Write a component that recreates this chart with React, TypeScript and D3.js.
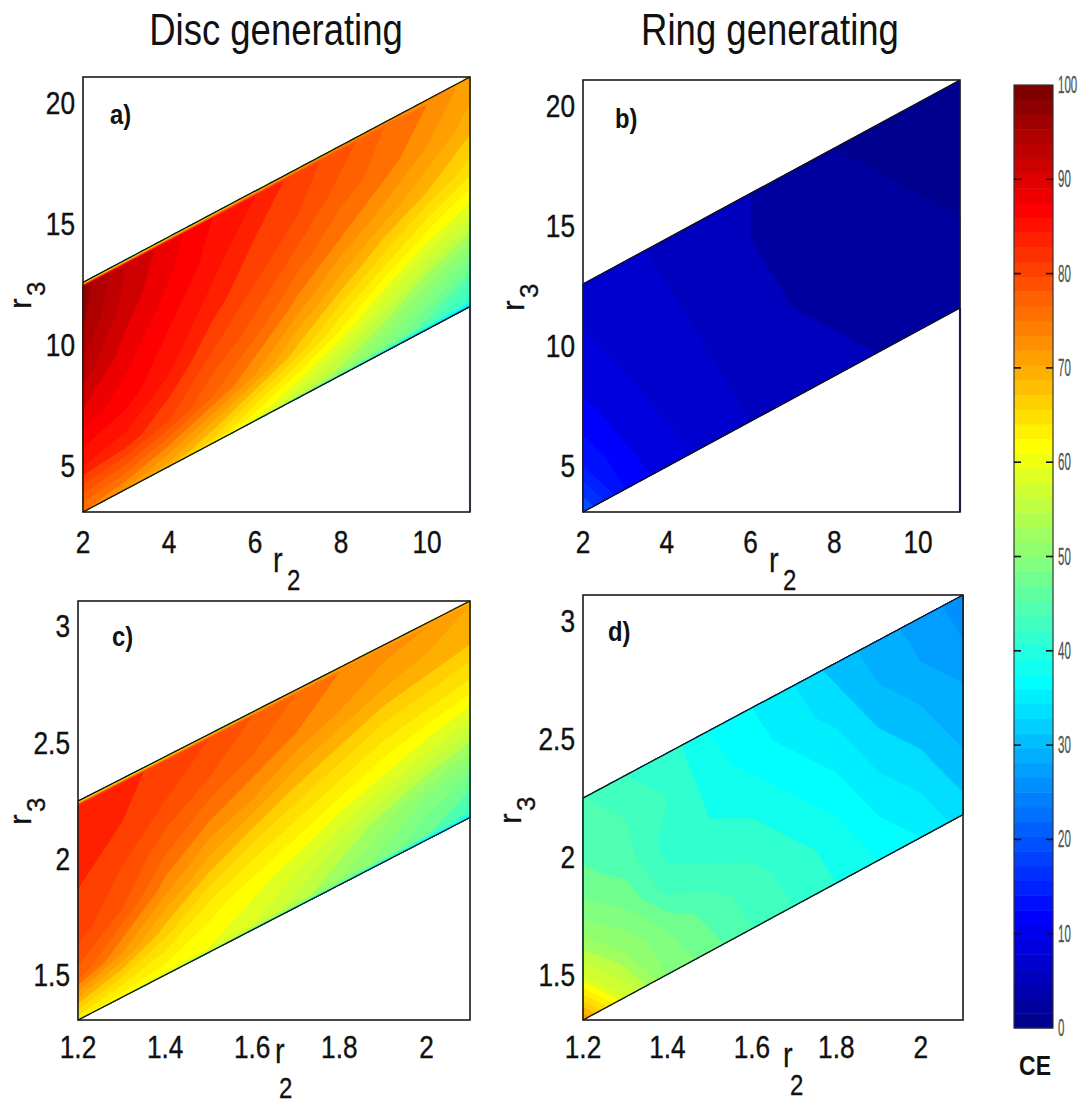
import React from 'react';
import * as d3 from 'd3';

// ---------- data ----------
const r2Large = [2, 3, 4, 5, 6, 7, 8, 9, 10, 11];
const r2Small = [1.2, 1.3, 1.4, 1.5, 1.6, 1.7, 1.8, 1.9, 2.0, 2.1];
// r3 of band edges at first and last r2
const lowerLarge = [3, 11.5];
const upperLarge = [12.5, 21];
const lowerSmall = [1.3, 2.17];
const upperSmall = [2.24, 3.1];
// fractional position across band (0 = lower edge, 1 = upper edge) of each data row
const rowsEdge = [0, 0.02, 0.2, 0.4, 0.6, 0.8, 0.98, 1];
const rowsPlain = [0, 0.2, 0.4, 0.6, 0.8, 1];

// CE values, rows from lower edge to upper edge, columns along r2
const ceDiscLarge = [
  [74, 72, 68, 63, 57, 50, 43, 37, 32, 28],
  [75, 73, 70, 66, 61, 57, 53, 49, 45, 41],
  [84, 83, 80, 76, 72, 67, 62, 57, 52, 48],
  [89, 87, 84, 80, 77, 73, 69, 65, 61, 58],
  [93, 89, 86, 83, 80, 77, 74, 71, 68, 65],
  [96, 91, 88, 85, 82, 80, 77, 75, 72, 69],
  [97, 92, 89, 86, 84, 81, 79, 76, 74, 71],
  [50, 52, 55, 58, 62, 66, 70, 72, 73, 71],
];
const ceRingLarge = [
  [20, 12, 9, 7, 6, 5, 4.5, 4, 3.5, 3],
  [14, 10, 8, 6.5, 5.5, 4.5, 4, 3.5, 3, 2.5],
  [11, 8.5, 7, 6, 5, 4, 3.5, 3, 2.5, 2],
  [9, 7.5, 6.5, 5.5, 4.5, 3.5, 3, 2.5, 2, 1.5],
  [8, 7, 6, 5, 4, 3.5, 2.5, 2, 1.5, 1],
  [7.5, 6.5, 5.5, 4.5, 4, 3, 2, 1.5, 1, 1],
];
const ceDiscSmall = [
  [62, 60, 56, 52, 48, 44, 40, 36, 33, 32],
  [64, 62, 61, 60, 58, 55, 52, 49, 46, 43],
  [77, 72, 67, 63, 61, 59, 56, 53, 50, 48],
  [81, 78, 73, 69, 66, 64, 62, 60, 58, 56],
  [82, 80, 77, 74, 72, 69, 67, 65, 64, 63],
  [83, 82, 80, 78, 76, 74, 72, 70, 69, 68],
  [84, 83, 81, 80, 78, 76, 74, 73, 72, 70],
  [55, 56, 58, 62, 66, 68, 70, 70, 70, 69],
];
const ceRingSmall = [
  [72, 58, 50, 47, 44, 42, 40, 38, 36, 33],
  [58, 52, 48, 45, 43, 41, 39, 36, 34, 31],
  [51, 48, 43, 42, 41, 39, 37, 34, 32, 29],
  [47, 45, 41, 40, 39, 37, 35, 32, 30, 28],
  [45, 44, 42, 39, 37, 35, 33, 30, 28, 26],
  [44, 42, 41, 38, 36, 34, 31, 29, 27, 25],
];

const xTicksLarge = [2, 4, 6, 8, 10];
const yTicksLarge = [5, 10, 15, 20];
const xTicksSmall = [1.2, 1.4, 1.6, 1.8, 2];
const yTicksSmall = [1.5, 2, 2.5, 3];
const cbTicks = [0, 10, 20, 30, 40, 50, 60, 70, 80, 90, 100];
const titles = ['Disc generating', 'Ring generating'];
const panelLetters = ['a)', 'b)', 'c)', 'd)'];
const levelStep = 2;
const levels = d3.range(0, 100, levelStep);

// ---------- helpers ----------
const FONT = "'Liberation Sans', Arial, Helvetica, sans-serif";

function jet(t: number): string {
  const c = (v: number) => Math.round(255 * Math.max(0, Math.min(1, v)));
  const r = Math.min(4 * t - 1.5, -4 * t + 4.5);
  const g = Math.min(4 * t - 0.5, -4 * t + 3.5);
  const b = Math.min(4 * t + 0.5, -4 * t + 2.5);
  return `rgb(${c(r)},${c(g)},${c(b)})`;
}
function jet64(i: number): string {
  return jet((i + 1) / 64);
}
function colorOf(v: number): string {
  const idx = Math.max(0, Math.min(63, Math.floor((v / 100) * 64)));
  return jet64(idx);
}

function T(props: any) {
  const { x, y, s = 1, size, anchor = 'start', weight = 'normal', fill = '#111', rotate = 0, sw = 0, children } = props;
  return (
    <text
      transform={`translate(${x},${y})${rotate ? ` rotate(${rotate})` : ''} scale(${s},1)`}
      fontSize={size}
      textAnchor={anchor}
      fontWeight={weight}
      fill={fill}
      stroke={sw ? fill : 'none'}
      strokeWidth={sw}
      fontFamily={FONT}
    >
      {children}
    </text>
  );
}

type Panel = {
  box: { x0: number; y0: number; x1: number; y1: number };
  xDomain: number[];
  yDomain: number[];
  r2: number[];
  lower: number[];
  upper: number[];
  rows: number[];
  values: number[][];
  xTicks: number[];
  yTicks: number[];
  letter: string;
  letterPos: number[];
  xLab: number[]; // r x, r baseline, sub x, sub baseline
  yLab: number[]; // baseline x, start y
  tickBase: number;
  edgeTint?: string;
};

const panels: Panel[] = [
  {
    box: { x0: 83, y0: 77, x1: 470, y1: 512 },
    xDomain: [2, 11], yDomain: [3, 21], r2: r2Large, lower: lowerLarge, upper: upperLarge,
    rows: rowsEdge, values: ceDiscLarge, xTicks: xTicksLarge, yTicks: yTicksLarge,
    letter: panelLetters[0], letterPos: [110, 124], xLab: [273, 572, 287, 590], yLab: [31, 309], tickBase: 553,
    edgeTint: '#9a9ada',
  },
  {
    box: { x0: 583, y0: 80, x1: 960, y1: 512 },
    xDomain: [2, 11], yDomain: [3, 21], r2: r2Large, lower: lowerLarge, upper: upperLarge,
    rows: rowsPlain, values: ceRingLarge, xTicks: xTicksLarge, yTicks: yTicksLarge,
    letter: panelLetters[1], letterPos: [615, 128], xLab: [769, 572, 783, 590], yLab: [524, 311], tickBase: 553,
    edgeTint: '#3535e0',
  },
  {
    box: { x0: 78, y0: 601, x1: 470, y1: 1020 },
    xDomain: [1.2, 2.1], yDomain: [1.3, 3.1], r2: r2Small, lower: lowerSmall, upper: upperSmall,
    rows: rowsEdge, values: ceDiscSmall, xTicks: xTicksSmall, yTicks: yTicksSmall,
    letter: panelLetters[2], letterPos: [112, 646], xLab: [275, 1063, 279, 1098], yLab: [31, 825], tickBase: 1058,
  },
  {
    box: { x0: 583, y0: 595, x1: 963, y1: 1020 },
    xDomain: [1.2, 2.1], yDomain: [1.3, 3.1], r2: r2Small, lower: lowerSmall, upper: upperSmall,
    rows: rowsPlain, values: ceRingSmall, xTicks: xTicksSmall, yTicks: yTicksSmall,
    letter: panelLetters[3], letterPos: [608, 641], xLab: [783, 1067, 790, 1095], yLab: [521, 824], tickBase: 1058,
  },
];

function PanelView({ p }: { p: Panel }) {
  const { box } = p;
  const xs = d3.scaleLinear().domain(p.xDomain).range([box.x0, box.x1]);
  const ys = d3.scaleLinear().domain(p.yDomain).range([box.y1, box.y0]);
  const nr = p.values.length;
  const nc = p.values[0].length;
  const flat = p.values.flat();
  const vOf = d3.scaleLinear().domain(d3.range(nr)).range(p.rows).clamp(true);
  const r2a = p.r2[0];
  const r2b = p.r2[nc - 1];
  const lowAt = (u: number) => p.lower[0] + u * (p.lower[1] - p.lower[0]);
  const upAt = (u: number) => p.upper[0] + u * (p.upper[1] - p.upper[0]);
  const map = (pt: number[]) => {
    const u = Math.max(0, Math.min(1, (pt[0] - 0.5) / (nc - 1)));
    const v = vOf(pt[1] - 0.5);
    const r2 = r2a + u * (r2b - r2a);
    const lo = lowAt(u);
    const hi = upAt(u);
    const r3 = lo + v * (hi - lo);
    return [xs(r2), ys(r3)];
  };
  const gen = d3.contours().size([nc, nr]).thresholds(levels);
  const cs = gen(flat);
  const paths = cs
    .map((c) => {
      const d = c.coordinates
        .map((poly) =>
          poly
            .map((ring) => 'M' + ring.map((pt) => map(pt).map((n) => n.toFixed(2)).join(',')).join('L') + 'Z')
            .join('')
        )
        .join('');
      return { value: c.value, d };
    })
    .filter((c) => c.d.length > 0);

  const lineGen = d3.line<number[]>().x((d) => xs(d[0])).y((d) => ys(d[1]));
  const lowerLine = lineGen([[r2a, p.lower[0]], [r2b, p.lower[1]]]);
  const upperLine = lineGen([[r2a, p.upper[0]], [r2b, p.upper[1]]]);

  return (
    <g>
      {paths.map((c, i) => (
        <path key={i} d={c.d} fill={colorOf(c.value + levelStep / 2)} stroke={colorOf(c.value + levelStep / 2)} strokeWidth={0.4} fillRule="evenodd" />
      ))}
      {p.edgeTint && (
        <line x1={box.x1} x2={box.x1} y1={ys(p.lower[1])} y2={box.y1} stroke={p.edgeTint} strokeWidth={2.2} />
      )}
      <path d={lowerLine || ''} stroke="#111" strokeWidth={1.3} fill="none" />
      <path d={upperLine || ''} stroke="#111" strokeWidth={1.3} fill="none" />
      <rect x={box.x0} y={box.y0} width={box.x1 - box.x0} height={box.y1 - box.y0} fill="none" stroke="#1a1a1a" strokeWidth={1.6} />
      {p.xTicks.map((t) => (
        <T key={'x' + t} x={xs(t)} y={p.tickBase} size={32} s={0.82} sw={0.4} anchor="middle">{String(t)}</T>
      ))}
      {p.yTicks.map((t) => (
        <T key={'y' + t} x={box.x0 - 8} y={ys(t) + 13} size={32} s={0.82} sw={0.4} anchor="end">{String(t)}</T>
      ))}
      <T x={p.letterPos[0]} y={p.letterPos[1]} size={28} s={0.85} weight="bold">{p.letter}</T>
      <T x={p.xLab[0]} y={p.xLab[1]} size={36} s={0.8} sw={0.3}>r</T>
      <T x={p.xLab[2]} y={p.xLab[3]} size={30} s={0.8} sw={0.3}>2</T>
      <T x={p.yLab[0]} y={p.yLab[1]} size={32} s={1} sw={0.3} rotate={-90}>r</T>
      <T x={p.yLab[0] + 14} y={p.yLab[1] - 13} size={26} s={1} sw={0.3} rotate={-90}>3</T>
    </g>
  );
}

function Colorbar() {
  const x0 = 1014;
  const x1 = 1053;
  const y0 = 85;
  const y1 = 1028;
  const cs = d3.scaleLinear().domain([0, 100]).range([y1, y0]);
  const bands = d3.range(64);
  return (
    <g>
      {bands.map((i) => {
        const ya = cs(((i + 1) * 100) / 64);
        const yb = cs((i * 100) / 64);
        return <rect key={i} x={x0} y={ya} width={x1 - x0} height={yb - ya + 0.5} fill={jet64(i)} />;
      })}
      <rect x={x0} y={y0} width={x1 - x0} height={y1 - y0} fill="none" stroke="#333" strokeWidth={1.2} />
      {cbTicks.map((t) => (
        <g key={t}>
          {t > 0 && t < 100 && (
            <>
              <line x1={x0} x2={x0 + 7} y1={cs(t)} y2={cs(t)} stroke="#111" strokeWidth={1.6} />
              <line x1={x1 - 7} x2={x1} y1={cs(t)} y2={cs(t)} stroke="#111" strokeWidth={1.6} />
            </>
          )}
          <T x={x1 + 5} y={cs(t) + 8} size={23} s={0.5} fill="#555" sw={0.3}>{String(t)}</T>
        </g>
      ))}
      <T x={1035} y={1075} size={28} s={0.82} weight="bold" anchor="middle">CE</T>
    </g>
  );
}

export default function App() {
  return (
    <svg
      width={1091}
      height={1106}
      viewBox="0 0 1091 1106"
      style={{ position: 'absolute', left: 0, top: 0, background: '#fff' }}
    >
      <rect x={0} y={0} width={1091} height={1106} fill="#fff" />
      <T x={276} y={45} size={44} s={0.83} anchor="middle">{titles[0]}</T>
      <T x={770} y={45} size={44} s={0.83} anchor="middle">{titles[1]}</T>
      {panels.map((p, i) => (
        <PanelView key={i} p={p} />
      ))}
      <Colorbar />
    </svg>
  );
}
